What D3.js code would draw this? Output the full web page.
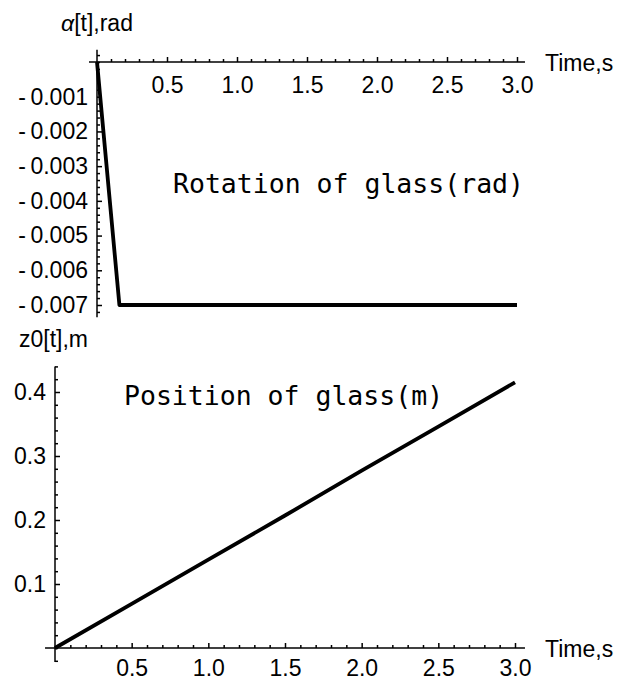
<!DOCTYPE html>
<html>
<head>
<meta charset="utf-8">
<script src="https://cdn.jsdelivr.net/npm/d3@7"></script>
<style>
  body { margin: 0; background: #fff; }
  .axis text { font-family: "Liberation Sans", Arial, sans-serif; font-size: 23px; fill: #000; }
  .axis line { stroke: #000; stroke-width: 1.5; }
  .lbl { font-family: "Liberation Sans", Arial, sans-serif; font-size: 23px; fill: #000; }
  .note { font-family: "DejaVu Sans Mono", monospace; font-size: 26.5px; fill: #000; }
</style>
</head>
<body>
<div class="chart"></div>
<script>
// DATA ------------------------------------
// rotation of glass, rad
const rotTime = [0, 0.16, 3.0];
const rotAlpha = [0, -0.007, -0.007];
// position of glass, m
const posTime = [0, 0.5, 1.0, 1.5, 2.0, 2.5, 3.0];
const posZ = [0, 0.069, 0.138, 0.207, 0.277, 0.346, 0.415];

const xTicks = [0.5, 1.0, 1.5, 2.0, 2.5, 3.0];
const rotTicks = [-0.001, -0.002, -0.003, -0.004, -0.005, -0.006, -0.007];
const posTicks = [0.1, 0.2, 0.3, 0.4];

// CHART INIT ------------------------------
const W = 628, H = 681;

let svg = d3.select('.chart')
    .append('svg')
    .attr('width', W)
    .attr('height', H);

// scales, one pair per panel
const xTop = d3.scaleLinear().domain([0, 3]).range([97, 517]);
const yTop = d3.scaleLinear().domain([0, -0.007]).range([62, 305]);
const xBot = d3.scaleLinear().domain([0, 3]).range([55, 515]);
const yBot = d3.scaleLinear().domain([0, 0.4]).range([648, 392]);

// draws a mathematica-like axis pair through the origin
function drawAxes(x, y, xExt, yExt, yTickVals, yFmt, yMinorStep, yMinorExt, xPad) {
    const g = svg.append('g');

    // axis lines
    g.append('line')
        .attr('x1', x(xExt[0])).attr('x2', x(xExt[1]))
        .attr('y1', y(0)).attr('y2', y(0))
        .attr('stroke', '#000').attr('stroke-width', 1.5);
    g.append('line')
        .attr('x1', x(0)).attr('x2', x(0))
        .attr('y1', y(yExt[0])).attr('y2', y(yExt[1]))
        .attr('stroke', '#000').attr('stroke-width', 1.5);

    // x major + minor
    const xMinor = d3.range(1, 31).map(d => d / 10).filter(d => Math.round(d * 10) % 5 != 0);
    g.append('g')
        .attr('class', 'axis')
        .attr('transform', `translate(0,${y(0)})`)
        .call(d3.axisBottom(x).tickValues(xTicks).tickFormat(d3.format('.1f'))
            .tickSize(-5).tickPadding(xPad))
        .call(a => a.select('.domain').remove());
    g.append('g')
        .attr('class', 'axis')
        .attr('transform', `translate(0,${y(0)})`)
        .call(d3.axisBottom(x).tickValues(xMinor).tickFormat('').tickSize(-3))
        .call(a => a.select('.domain').remove());

    // y major + minor
    g.append('g')
        .attr('class', 'axis')
        .attr('transform', `translate(${x(0)},0)`)
        .call(d3.axisLeft(y).tickValues(yTickVals).tickFormat(yFmt)
            .tickSize(-5).tickPadding(9))
        .call(a => a.select('.domain').remove());
    const yMinor = d3.range(yMinorExt[0], yMinorExt[1] + yMinorStep / 2, yMinorStep)
        .filter(d => !yTickVals.some(t => Math.abs(t - d) < yMinorStep / 10));
    g.append('g')
        .attr('class', 'axis')
        .attr('transform', `translate(${x(0)},0)`)
        .call(d3.axisLeft(y).tickValues(yMinor).tickFormat('').tickSize(-3))
        .call(a => a.select('.domain').remove());

    // time label
    g.append('text')
        .attr('class', 'lbl')
        .attr('x', 545)
        .attr('y', y(0) + 9)
        .text('Time,s');
}

drawAxes(xTop, yTop, [-0.057, 3.057], [0.00035, -0.00735], rotTicks,
    d => '-\u2009' + d3.format('.3f')(-d), 0.0002, [-0.0072, 0.0002], 15);
drawAxes(xBot, yBot, [-0.065, 3.065], [0.44, -0.022], posTicks,
    d3.format('.1f'), 0.02, [-0.02, 0.44], 12);

// lines
const lineTop = d3.line().x((d, i) => xTop(rotTime[i])).y(d => yTop(d));
const lineBot = d3.line().x((d, i) => xBot(posTime[i])).y(d => yBot(d));

svg.append('path')
    .attr('d', lineTop(rotAlpha))
    .attr('fill', 'none').attr('stroke', '#000')
    .attr('stroke-width', 3.8).attr('stroke-linejoin', 'round');
svg.append('path')
    .attr('d', lineBot(posZ))
    .attr('fill', 'none').attr('stroke', '#000')
    .attr('stroke-width', 3.8).attr('stroke-linejoin', 'round');

// axis titles
let aLbl = svg.append('text').attr('class', 'lbl').attr('x', 61).attr('y', 31);
aLbl.append('tspan').attr('font-style', 'italic').text('α');
aLbl.append('tspan').text('[t],rad');

svg.append('text').attr('class', 'lbl').attr('x', 19).attr('y', 347).text('z0[t],m');

// annotations
svg.append('text').attr('class', 'note').attr('x', 173).attr('y', 193)
    .text('Rotation of glass(rad)');
svg.append('text').attr('class', 'note').attr('x', 124).attr('y', 405)
    .text('Position of glass(m)');
</script>
</body>
</html>
